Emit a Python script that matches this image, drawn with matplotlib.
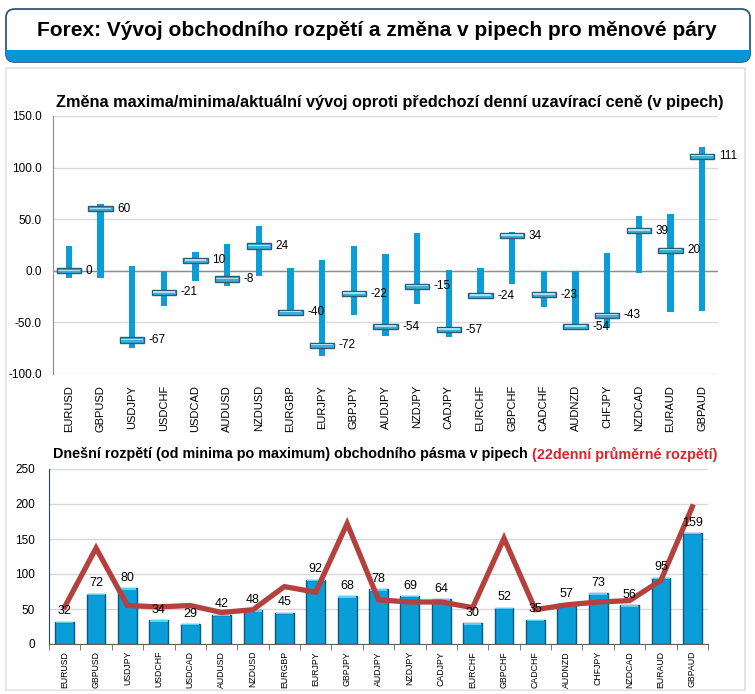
import matplotlib

matplotlib.use('Agg')

import matplotlib.pyplot as plt
from matplotlib.patches import FancyBboxPatch, Rectangle

plt.rcParams['font.family'] = ['Liberation Sans', 'DejaVu Sans']

pairs = ['EURUSD', 'GBPUSD', 'USDJPY', 'USDCHF', 'USDCAD', 'AUDUSD', 'NZDUSD',
         'EURGBP', 'EURJPY', 'GBPJPY', 'AUDJPY', 'NZDJPY', 'CADJPY', 'EURCHF',
         'GBPCHF', 'CADCHF', 'AUDNZD', 'CHFJPY', 'NZDCAD', 'EURAUD', 'GBPAUD']

# top chart: change vs previous close (pips)
day_high = [24, 65, 5, 0, 18, 26, 43, 3, 10, 24, 16, 37, 1, 3, 38, 0, 0, 17, 53, 55, 120]
day_low = [-7, -7, -75, -34, -10, -15, -5, -40, -83, -43, -63, -32, -64, -27, -13, -35, -54, -55, -2, -40, -39]
current = [0, 60, -67, -21, 10, -8, 24, -40, -72, -22, -54, -15, -57, -24, 34, -23, -54, -43, 39, 20, 111]

# bottom chart: today's range and 22 day average range
today_range = [32, 72, 80, 34, 29, 42, 48, 45, 92, 68, 78, 69, 64, 30, 52, 35, 57, 73, 56, 95, 159]
avg_range = [53, 137, 55, 53, 55, 45, 49, 82, 74, 172, 63, 60, 60, 52, 151, 49, 56, 60, 62, 91, 196]

W, H = 755, 694
fig = plt.figure(figsize=(W / 100, H / 100), dpi=100)
fig.patch.set_facecolor('white')


def fx(px):
    return px / W


def fy(py):
    return 1 - py / H


# background panel
panel = Rectangle((fx(6), fy(690)), fx(745) - fx(6), fy(68) - fy(690), transform=fig.transFigure,
                  facecolor='white', edgecolor='#E2E2E2', linewidth=1.2, zorder=-5)
fig.patches.append(panel)

# header box
box = FancyBboxPatch((fx(6), fy(62)), fx(750) - fx(6), fy(9) - fy(62), transform=fig.transFigure,
                     boxstyle='round,pad=0,rounding_size=0.012', facecolor='white',
                     edgecolor='#2C5A7A', linewidth=1.3, zorder=2)
fig.patches.append(box)
strip = Rectangle((fx(0), fy(63)), 1, fy(50) - fy(63), transform=fig.transFigure,
                  facecolor='#0796D3', edgecolor='none', zorder=2)
strip.set_clip_path(box)
fig.patches.append(strip)
fig.text(fx(377), fy(31), 'Forex: Vývoj obchodního rozpětí a změna v pipech pro měnové páry',
         ha='center', va='center', fontsize=15, fontweight='bold', zorder=3)

x = list(range(len(pairs)))
blue = '#0A9ED8'

# ---- top chart
ax1 = fig.add_axes([fx(53), fy(374), fx(718) - fx(53), fy(116) - fy(374)])
ax1.set_xlim(-0.5, len(pairs) - 0.5)
ax1.set_ylim(-100, 150)
ax1.set_yticks([-100, -50, 0, 50, 100, 150])
ax1.set_yticklabels(['%.1f' % v for v in [-100, -50, 0, 50, 100, 150]], fontsize=8.5)
ax1.grid(axis='y', color='#D9D9D9', linewidth=1)
ax1.set_axisbelow(True)
ax1.axhline(0, color='#8C8C8C', linewidth=1, zorder=1)
for s in ['top', 'right', 'bottom']:
    ax1.spines[s].set_visible(False)
ax1.spines['left'].set_color('#8C8C8C')
ax1.tick_params(axis='y', length=0, pad=8)
ax1.tick_params(axis='x', length=0, pad=8)
ax1.set_xticks(x)
ax1.set_xticklabels(pairs, rotation=90, fontsize=8)

spans = [h - l for h, l in zip(day_high, day_low)]
ax1.bar(x, spans, bottom=day_low, width=0.19, color=blue, zorder=2)
ax1.bar(x, 5, bottom=[c - 2.5 for c in current], width=0.76, color='#3AAFDD',
        edgecolor='#2D5C72', linewidth=1, zorder=3)
ax1.bar(x, 1.4, bottom=[c - 0.2 for c in current], width=0.68, color='#A6E0F5',
        edgecolor='none', zorder=3)
for i, c in enumerate(current):
    ax1.text(i + 0.53, c, '%d' % c, va='center', ha='left', fontsize=8.5, zorder=4)

ax1.text(0.507, 1.0 + 13 / 258, 'Změna maxima/minima/aktuální vývoj oproti předchozí denní uzavírací ceně (v pipech)',
         transform=ax1.transAxes, ha='center', va='center', fontsize=11.7, fontweight='bold')

# ---- bottom chart
ax2 = fig.add_axes([fx(49), fy(644), fx(708) - fx(49), fy(469) - fy(644)])
ax2.set_xlim(-0.5, len(pairs) - 0.5)
ax2.set_ylim(0, 250)
ax2.set_yticks([0, 50, 100, 150, 200, 250])
ax2.tick_params(axis='y', length=0, labelsize=8.5, pad=10)
ax2.grid(axis='y', color='#D9D9D9', linewidth=1)
ax2.set_axisbelow(True)
for s in ['top', 'right']:
    ax2.spines[s].set_visible(False)
ax2.spines['left'].set_color('#2B4560')
ax2.spines['bottom'].set_color('#606060')
ax2.set_xticks(x)
ax2.set_xticklabels(pairs, rotation=90, fontsize=6.3)
ax2.set_xticks([i - 0.5 for i in range(len(pairs) + 1)], minor=True)
ax2.tick_params(axis='x', which='major', length=0, pad=5)
ax2.tick_params(axis='x', which='minor', length=4, color='#606060')

ax2.bar(x, today_range, width=0.6, color=blue, edgecolor='#0B5A7D', linewidth=1, zorder=2)
ax2.bar(x, 2.5, bottom=[v - 2.5 for v in today_range], width=0.56, color='#5FD0F5',
        edgecolor='none', zorder=2)
for i, v in enumerate(today_range):
    ax2.annotate('%d' % v, (i, v), xytext=(0, 3), textcoords='offset points',
                 ha='center', va='bottom', fontsize=9, zorder=4)
ax2.plot(x, avg_range, color='#B5413E', linewidth=3.8, solid_joinstyle='miter', zorder=3)

t1 = ax2.text((53 - 49) / (708 - 49), 1.0 + 15 / 175,
              'Dnešní rozpětí (od minima po maximum) obchodního pásma v pipech ',
              transform=ax2.transAxes, ha='left', va='center', fontsize=10.4, fontweight='bold')
ax2.annotate('(22denní průměrné rozpětí)', xy=(1, 0.5), xycoords=t1, ha='left', va='center',
             fontsize=10.4, fontweight='bold', color='#D7262E')

plt.savefig('out.png', dpi=100)
